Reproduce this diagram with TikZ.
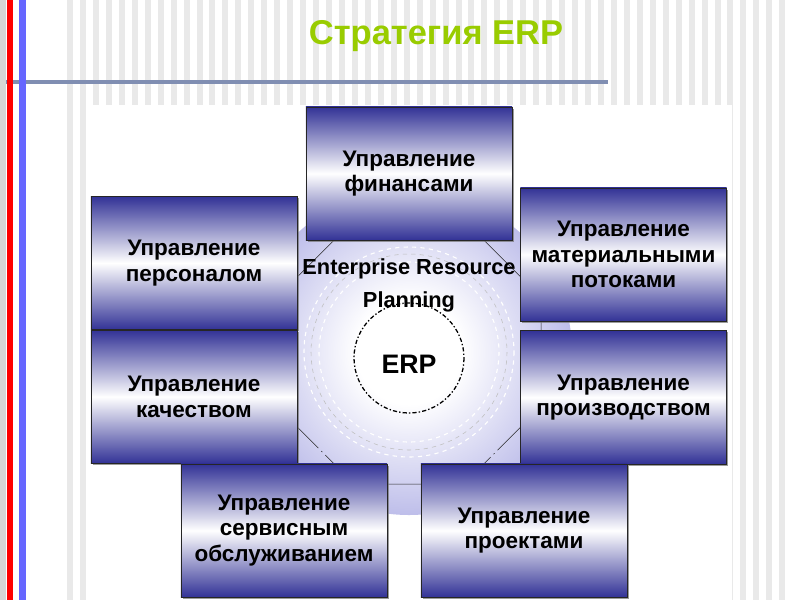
\documentclass[tikz,border=0pt]{standalone}
\usepackage{fontspec}
\setmainfont{Liberation Sans}
\usepackage{tikz}
\usetikzlibrary{positioning,shapes.geometric,shadows}
\definecolor{erpNavy}{RGB}{50,50,150}
\definecolor{erpLav}{RGB}{190,190,234}
\definecolor{erpGreen}{RGB}{153,204,0}
\definecolor{erpRed}{RGB}{255,0,0}
\definecolor{erpBlue}{RGB}{102,102,255}
\definecolor{erpStripe}{RGB}{233,233,233}
\definecolor{erpRule}{RGB}{128,142,178}
\pgfdeclareradialshading{erpglow}{\pgfpoint{0bp}{0bp}}{color(0bp)=(white); color(8bp)=(white); color(25bp)=(erpLav); color(50bp)=(erpLav)}
\tikzset{
  modbox/.style={rectangle, draw=black!85, thin, top color=erpNavy, bottom color=erpNavy, middle color=white, minimum width=5.15cm, minimum height=3.33cm, inner sep=0pt, align=center, font=\fontsize{16}{18}\selectfont\bfseries, drop shadow={shadow xshift=1.2pt, shadow yshift=-1.2pt, fill=black!55, opacity=0.7}},
  core/.style={align=center, font=\fontsize{15.5}{23.5}\selectfont\bfseries},
  ring/.style={draw=white, line width=0.8pt, dashed},
  octo/.style={regular polygon, regular polygon sides=8, minimum size=7.145cm, inner sep=0pt, outer sep=0pt, draw=black!85, thin, dash pattern=on 40pt off 3pt on 1pt off 3pt}
}
\begin{document}
\begin{tikzpicture}[x=0.025cm, y=-0.025cm]
  \useasboundingbox (0,0) rectangle (800,600);
  % slide background
  \fill[white] (0,0) rectangle (800,600);
  \foreach \k in {0,...,55}
    \fill[erpStripe] ({67+12.95*\k},0) rectangle ++(6,600);
  \fill[erpRule] (0,80) rectangle (608,84);
  \fill[black!16] (0,0) rectangle (6,600);
  \fill[erpRed] (7,0) rectangle (13,600);
  \fill[erpBlue] (19,0) rectangle (26,600);
  \fill[white] (88,105) rectangle (732,600);
  \node[anchor=base, text=erpGreen, font=\fontsize{24.5}{28}\selectfont\bfseries] (title) at (436,44) {Стратегия ERP};
  % core of the diagram
  \shade[shading=erpglow] (409,352) circle (163);
  \node[octo] (oct) at (409,352) {};
  \draw[draw=black!25, thin, dashed] (409,352) circle (98);
  \draw[ring] (409,352) circle (105);
  \draw[ring] (409,352) circle (90);
  \draw[black, line width=0.9pt, dash pattern=on 3pt off 1.5pt on 1pt off 1.5pt] (409,358) circle (55);
  \node[core] (erpfull) at (409,285) {Enterprise Resource\\Planning};
  \node[anchor=base, font=\fontsize{19}{22}\selectfont\bfseries] (erp) at (409,373) {ERP};
  % modules
  \node[modbox] (fin) at (409,173.5) {Управление\\финансами};
  \node[modbox] (pers) at (194,263) {Управление\\персоналом};
  \node[modbox, below=0pt of pers] (qual) {Управление\\качеством};
  \node[modbox] (mat) at (623.5,254.5) {Управление\\материальными\\потоками};
  \node[modbox, below=9*0.025cm of mat] (prod) {Управление\\производством};
  \node[modbox] (serv) at (284,530.5) {Управление\\сервисным\\обслуживанием};
  \node[modbox] (proj) at (524,530.5) {Управление\\проектами};
\end{tikzpicture}
\end{document}
